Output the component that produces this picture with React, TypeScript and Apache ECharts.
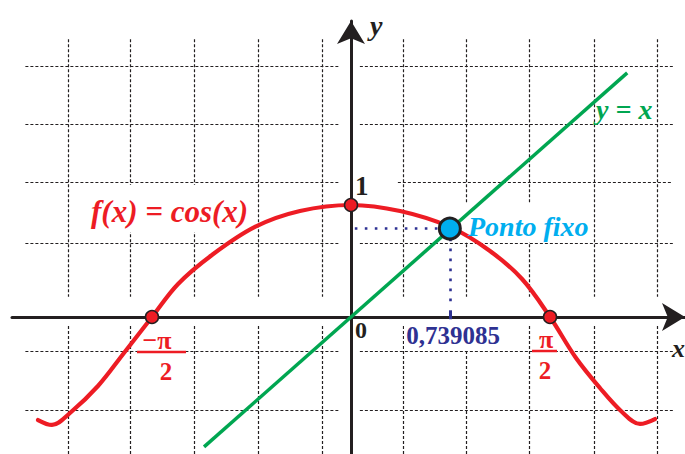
import React, { useEffect, useRef } from "react";
import * as echarts from "echarts";

// ---- data (x in radian units, y in function units) ----
const curveX = [-2.47, -2.36, -2.218, -1.997, -1.792, -1.5708, -1.365, -1.097, -0.758, -0.403, 0, 0.387, 0.781, 1.097, 1.35, 1.5708, 1.776, 1.965, 2.139, 2.281, 2.399];
const curveY = [-0.92, -0.964, -0.857, -0.616, -0.321, 0, 0.295, 0.554, 0.804, 0.946, 1, 0.946, 0.804, 0.589, 0.339, 0, -0.366, -0.634, -0.848, -0.955, -0.911];

const identityEnds = [-1.16, 2.18];

const markedX = [-1.5708, 0, 1.5708];
const markedY = [0, 1, 0];

const fixedPoint = [0.78, 0.79];
const fixedLabel = "0,739085";

const guideH = { x0: 0.03, x1: 0.7, y: 0.79 };
const guideV = { x: 0.78, y0: 0.7, y1: 0.1 };
const guideTick = { x: 0.78, y0: 0.06, y1: -0.02 };

// dashed background grid
const vGridX = [-2.23, -1.74, -1.24, -0.73, -0.23, 0.41, 0.91, 1.41, 1.92, 2.42];
const vGridUpper = [2.48, 0.18];
const vGridLower = [-0.08, -1.23];
const hGridY = [2.24, 1.72, 1.2, 0.66, -0.31, -0.83];
const hGridLeft = [-2.57, -0.1];
const hGridRight = [0.07, 2.54];
const hGridRightStart = { 1.2: 0.37 } as Record<string, number>;

// axis extents
const X_MIN = -2.6756;
const X_MAX = 2.6361;
const Y_MIN = -1.2232;
const Y_MAX = 2.6429;

const RED = "#ed1c24";
const GREEN = "#00a651";
const CYAN = "#00aeef";
const NAVY = "#2e3192";
const INK = "#231f20";
const SERIF = "'Liberation Serif', 'Times New Roman', serif";

export default function App() {
  const ref = useRef<HTMLDivElement>(null);

  useEffect(() => {
    if (!ref.current) return;
    const chart = echarts.init(ref.current, null, { renderer: "svg" });

    const gridSegments: { coords: number[][] }[] = [];
    vGridX.forEach((x) => {
      gridSegments.push({ coords: [[x, vGridUpper[0]], [x, vGridUpper[1]]] });
      gridSegments.push({ coords: [[x, vGridLower[0]], [x, vGridLower[1]]] });
    });
    hGridY.forEach((y) => {
      gridSegments.push({ coords: [[hGridLeft[0], y], [hGridLeft[1], y]] });
      const rs = hGridRightStart[String(y)] ?? hGridRight[0];
      gridSegments.push({ coords: [[rs, y], [hGridRight[1], y]] });
    });

    const axisCommon = {
      type: "value" as const,
      axisTick: { show: false },
      axisLabel: { show: false },
      splitLine: { show: false },
      axisLine: {
        show: true,
        onZero: true,
        symbol: ["none", "arrow"],
        symbolSize: [21, 23],
        lineStyle: { color: INK, width: 3 },
      },
    };

    const txt = (
      text: string,
      x: number,
      y: number,
      size: number,
      fill: string,
      opts: { italic?: boolean; bold?: boolean; align?: string } = {}
    ) => ({
      type: "text",
      x,
      y,
      z: 20,
      silent: true,
      style: {
        text,
        fill,
        font: `${opts.italic ? "italic " : ""}${opts.bold === false ? "" : "bold "}${size}px ${SERIF}`,
        align: opts.align ?? "left",
        verticalAlign: "middle",
      },
    });

    const mask = (x: number, y: number, w: number, h: number) => ({
      type: "rect",
      z: 1,
      silent: true,
      shape: { x, y, width: w, height: h },
      style: { fill: "#ffffff" },
    });

    chart.setOption({
      animation: false,
      backgroundColor: "#ffffff",
      grid: { left: 12, right: 0, top: 21, bottom: 0, containLabel: false },
      xAxis: { ...axisCommon, min: X_MIN, max: X_MAX },
      yAxis: { ...axisCommon, min: Y_MIN, max: Y_MAX },
      series: [
        {
          type: "lines",
          coordinateSystem: "cartesian2d",
          z: 0,
          silent: true,
          polyline: false,
          data: gridSegments,
          lineStyle: { color: INK, width: 1.2, type: [3, 2], opacity: 1, curveness: 0 },
        },
        {
          type: "line",
          z: 3,
          smooth: 0.35,
          showSymbol: false,
          silent: true,
          data: curveX.map((x, i) => [x, curveY[i]]),
          lineStyle: { color: RED, width: 4.2, cap: "round", join: "round" },
        },
        {
          type: "line",
          z: 4,
          showSymbol: false,
          silent: true,
          data: identityEnds.map((v) => [v, v]),
          lineStyle: { color: GREEN, width: 3.5 },
        },
        {
          type: "lines",
          coordinateSystem: "cartesian2d",
          z: 4,
          silent: true,
          data: [
            { coords: [[guideH.x0, guideH.y], [guideH.x1, guideH.y]] },
            { coords: [[guideV.x, guideV.y0], [guideV.x, guideV.y1]] },
          ],
          lineStyle: { color: NAVY, width: 2.6, type: [2.6, 7.4], opacity: 1, curveness: 0 },
        },
        {
          type: "lines",
          coordinateSystem: "cartesian2d",
          z: 4,
          silent: true,
          data: [{ coords: [[guideTick.x, guideTick.y0], [guideTick.x, guideTick.y1]] }],
          lineStyle: { color: NAVY, width: 3, type: "solid", opacity: 1, curveness: 0 },
        },
        {
          type: "scatter",
          z: 6,
          silent: true,
          symbolSize: 13,
          data: markedX.map((x, i) => [x, markedY[i]]),
          itemStyle: { color: RED, borderColor: INK, borderWidth: 1.5, opacity: 1 },
        },
        {
          type: "scatter",
          z: 7,
          silent: true,
          symbolSize: 21,
          data: [fixedPoint],
          itemStyle: { color: CYAN, borderColor: INK, borderWidth: 3, opacity: 1 },
        },
      ],
      graphic: {
        elements: [
          mask(85, 185, 167, 47),
          mask(464, 203, 128, 39),
          mask(404, 321, 97, 28),
          txt("f(x) = cos(x)", 91, 211, 31, RED, { italic: true }),
          txt("Ponto fixo", 468, 226, 28, CYAN, { italic: true }),
          txt("y = x", 596, 109, 28, GREEN, { italic: true }),
          txt("1", 355, 186, 27, INK),
          txt("0", 355, 330, 24, INK),
          txt(fixedLabel, 453, 335, 25, NAVY, { align: "center" }),
          txt("y", 370, 25, 28, INK, { italic: true }),
          txt("x", 685, 348, 26, INK, { italic: true, align: "right" }),
          txt("\u2212\u03c0", 157, 340, 26, RED, { align: "center" }),
          {
            type: "line",
            z: 20,
            silent: true,
            shape: { x1: 137, y1: 352, x2: 186, y2: 352 },
            style: { stroke: RED, lineWidth: 2.5 },
          },
          txt("2", 166, 371, 25, RED, { align: "center" }),
          txt("\u03c0", 546, 339, 26, RED, { align: "center" }),
          {
            type: "line",
            z: 20,
            silent: true,
            shape: { x1: 532, y1: 351, x2: 557, y2: 351 },
            style: { stroke: RED, lineWidth: 2.5 },
          },
          txt("2", 545, 370, 25, RED, { align: "center" }),
        ],
      },
    });

    return () => chart.dispose();
  }, []);

  return (
    <div
      ref={ref}
      style={{ position: "absolute", left: 0, top: 0, width: 685, height: 454, background: "#fff" }}
    />
  );
}
